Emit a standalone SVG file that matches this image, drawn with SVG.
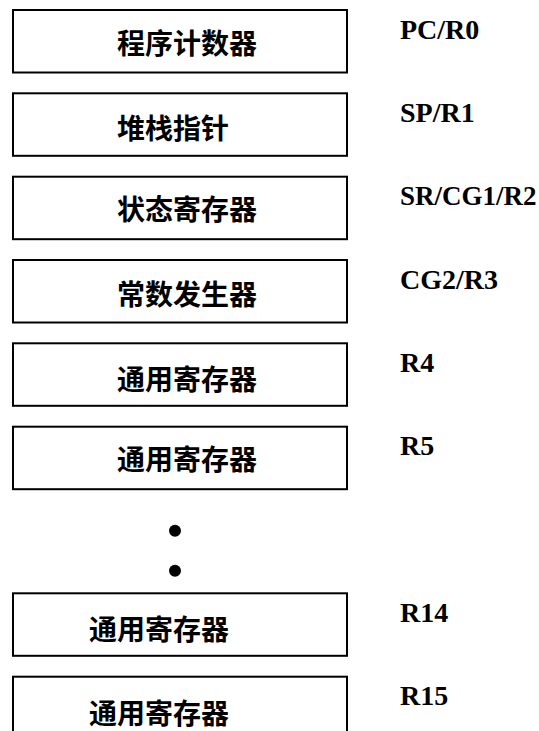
<svg xmlns="http://www.w3.org/2000/svg" width="539" height="731" viewBox="0 0 539 731">
<style>
.box{fill:#fff;stroke:#000;stroke-width:2}
.cn{font-family:"Noto Sans CJK SC","Noto Sans CJK TC",sans-serif;font-weight:700;font-size:28px;fill:#000}
.lb{font-family:"Liberation Serif","Times New Roman",serif;font-weight:700;font-size:28px;fill:#000}
.dot{fill:#000}
</style>
<rect width="539" height="731" fill="#fff"/>
<g id="pc">
<rect class="box" x="13" y="10" width="334" height="62.5"/>
<text class="cn" x="117" y="54">程序计数器</text>
<text class="lb" x="400" y="38.5">PC/R0</text>
</g>
<g id="sp">
<rect class="box" x="13" y="93.3" width="334" height="62.5"/>
<text class="cn" x="117" y="138.5">堆栈指针</text>
<text class="lb" x="400" y="121.8">SP/R1</text>
</g>
<g id="sr">
<rect class="box" x="13" y="176.7" width="334" height="62.5"/>
<text class="cn" x="117" y="220">状态寄存器</text>
<text class="lb" x="400" y="205" style="font-size:27px">SR/CG1/R2</text>
</g>
<g id="cg2">
<rect class="box" x="13" y="260" width="334" height="62.5"/>
<text class="cn" x="117" y="305">常数发生器</text>
<text class="lb" x="400" y="288.5">CG2/R3</text>
</g>
<g id="r4">
<rect class="box" x="13" y="343.3" width="334" height="62.5"/>
<text class="cn" x="117" y="389.5">通用寄存器</text>
<text class="lb" x="400" y="371.8">R4</text>
</g>
<g id="r5">
<rect class="box" x="13" y="426.7" width="334" height="62.5"/>
<text class="cn" x="117" y="470">通用寄存器</text>
<text class="lb" x="400" y="455.2">R5</text>
</g>
<g id="ellipsis">
<circle class="dot" cx="175" cy="530.7" r="6"/>
<circle class="dot" cx="175" cy="570.7" r="6"/>
</g>
<g id="r14">
<rect class="box" x="13" y="593.3" width="334" height="62.5"/>
<text class="cn" x="89" y="640">通用寄存器</text>
<text class="lb" x="400" y="621.8">R14</text>
</g>
<g id="r15">
<rect class="box" x="13" y="676.7" width="334" height="62.5"/>
<text class="cn" x="89" y="724">通用寄存器</text>
<text class="lb" x="400" y="705.2">R15</text>
</g>
<g id="connectors"/>
</svg>
